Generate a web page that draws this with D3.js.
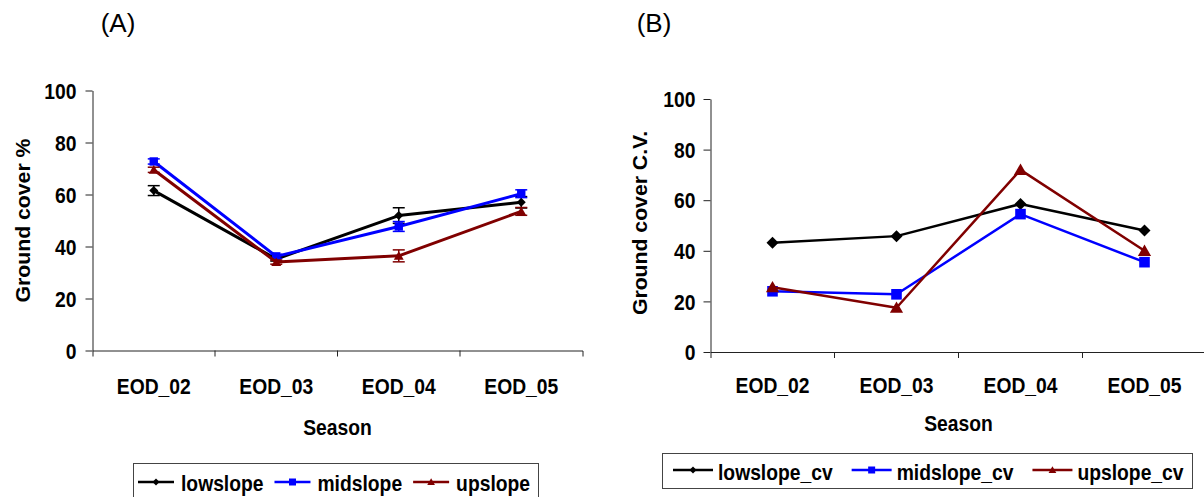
<!DOCTYPE html>
<html>
<head>
<meta charset="utf-8">
<script src="https://cdn.jsdelivr.net/npm/d3@7/dist/d3.min.js"></script>
<style>
  html, body { margin: 0; padding: 0; background: #fff; }
  svg { display: block; }
  text { font-family: "Liberation Sans", Arial, sans-serif; fill: #000; }
</style>
</head>
<body>
<svg id="chart" width="1204" height="497"></svg>
<script>
// Seasons on the x axis
const seasons = ["EOD_02", "EOD_03", "EOD_04", "EOD_05"];
const yTicks = [0, 20, 40, 60, 80, 100];

// Panel A: mean ground cover (%) with standard errors
const lowslope = [61.5, 35.2, 51.9, 57.0];
const lowslopeErr = [1.9, 0.8, 3.0, 2.2];
const midslope = [72.7, 36.2, 47.7, 60.3];
const midslopeErr = [1.0, 0.8, 1.9, 1.5];
const upslope = [69.5, 34.0, 36.4, 53.5];
const upslopeErr = [1.0, 0.8, 2.3, 1.5];

// Panel B: coefficient of variation of ground cover
const lowslopeCv = [43.2, 45.8, 58.5, 48.0];
const midslopeCv = [24.0, 22.8, 54.5, 35.5];
const upslopeCv = [25.6, 17.5, 72.0, 40.0];

const seriesNamesA = ["lowslope", "midslope", "upslope"];
const seriesNamesB = ["lowslope_cv", "midslope_cv", "upslope_cv"];
const colors = ["#000000", "#0000ff", "#800000"];
const shapes = ["diamond", "square", "triangle"];

const SY = 1.1;            // vertical stretch of all lettering
const FS = 19.3;           // base font size
const svg = d3.select("#chart");

function markerPath(shape, s) {
  const p = d3.path();
  if (shape === "diamond") {
    p.moveTo(0, -s); p.lineTo(s, 0); p.lineTo(0, s); p.lineTo(-s, 0); p.closePath();
  } else if (shape === "square") {
    p.rect(-s, -s, 2 * s, 2 * s);
  } else {
    p.moveTo(0, -s * 1.05); p.lineTo(s * 1.1, s * 0.85); p.lineTo(-s * 1.1, s * 0.85); p.closePath();
  }
  return p.toString();
}

function label(g, txt, x, y, opts = {}) {
  const t = g.append("text")
    .text(txt)
    .attr("font-size", opts.size || FS)
    .attr("font-weight", opts.weight || "bold")
    .attr("text-anchor", opts.anchor || "middle")
    .attr("transform", `translate(${x},${y}) scale(1,${opts.sy || SY})` + (opts.rotate ? " rotate(-90)" : ""));
  return t;
}

function panel(cfg) {
  const g = svg.append("g");
  const x = d3.scaleBand().domain(seasons).range([cfg.x0, cfg.x1]);
  const y = d3.scaleLinear().domain([0, 100]).range([cfg.y0, cfg.y1]);

  // y axis
  const ya = g.append("g")
    .attr("transform", `translate(${cfg.x0},0)`)
    .call(d3.axisLeft(y).tickValues(yTicks).tickSize(7).tickSizeOuter(0));
  ya.select(".domain").attr("stroke", "#222");
  ya.selectAll(".tick line").attr("stroke", "#222");
  ya.selectAll(".tick text")
    .attr("font-family", "Liberation Sans, Arial, sans-serif")
    .attr("font-size", FS).attr("font-weight", "bold").attr("fill", "#000")
    .attr("x", -cfg.tickGap).attr("dy", "0.36em")
    .attr("transform", `scale(1,${SY})`);

  // x axis: category labels centred in bands, ticks on band boundaries
  const xa = g.append("g")
    .attr("transform", `translate(0,${cfg.y0})`)
    .call(d3.axisBottom(x).tickSize(0).tickSizeOuter(6));
  xa.select(".domain").attr("stroke", "#222");
  xa.selectAll(".tick text")
    .attr("font-family", "Liberation Sans, Arial, sans-serif")
    .attr("font-size", FS).attr("font-weight", "bold").attr("fill", "#000")
    .attr("y", cfg.xLabelBase / SY).attr("dy", 0)
    .attr("transform", `scale(1,${SY})`);
  xa.selectAll(".boundary")
    .data(seasons.slice(1))
    .join("line")
    .attr("class", "boundary")
    .attr("x1", d => x(d)).attr("x2", d => x(d))
    .attr("y1", 0).attr("y2", 6)
    .attr("stroke", "#222");

  // axis titles
  label(g, "Season", (cfg.x0 + cfg.x1) / 2, cfg.y0 + cfg.seasonBase);
  label(g, cfg.yTitle, cfg.yTitleX, cfg.yTitleY, { rotate: true });
  label(g, cfg.title, cfg.titleX, 32, { size: 26, weight: "normal", sy: 1.0 });

  const cx = d => x(d) + x.bandwidth() / 2;

  cfg.series.forEach((vals, i) => {
    const pts = seasons.map((s, j) => ({ s, v: vals[j], e: cfg.errors ? cfg.errors[i][j] : 0 }));
    // error bars
    if (cfg.errors) {
      const eb = g.append("g").attr("stroke", colors[i]).attr("stroke-width", 1.5);
      pts.forEach(p => {
        const xx = cx(p.s);
        eb.append("line").attr("x1", xx).attr("x2", xx).attr("y1", y(p.v - p.e)).attr("y2", y(p.v + p.e));
        [p.v - p.e, p.v + p.e].forEach(vv => {
          eb.append("line").attr("x1", xx - 6).attr("x2", xx + 6).attr("y1", y(vv)).attr("y2", y(vv));
        });
      });
    }
    g.append("path")
      .datum(pts)
      .attr("fill", "none")
      .attr("stroke", colors[i])
      .attr("stroke-width", cfg.lineWidth)
      .attr("stroke-linejoin", "round")
      .attr("d", d3.line().x(p => cx(p.s)).y(p => y(p.v)));
    g.selectAll(null)
      .data(pts)
      .join("path")
      .attr("transform", p => `translate(${cx(p.s)},${y(p.v)})`)
      .attr("d", markerPath(shapes[i], cfg.markerSize[i]))
      .attr("fill", colors[i]);
  });

  // legend
  const lg = g.append("g");
  lg.append("rect")
    .attr("x", cfg.legend.x).attr("y", cfg.legend.y)
    .attr("width", cfg.legend.w).attr("height", cfg.legend.h)
    .attr("fill", "#fff").attr("stroke", "#444").attr("stroke-width", 1);
  let lx = cfg.legend.start;
  const ly = cfg.legend.y + cfg.legend.lineY;
  cfg.names.forEach((name, i) => {
    lg.append("line")
      .attr("x1", lx).attr("x2", lx + cfg.legend.lineLen)
      .attr("y1", ly).attr("y2", ly)
      .attr("stroke", colors[i]).attr("stroke-width", 2.5);
    lg.append("path")
      .attr("transform", `translate(${lx + cfg.legend.lineLen / 2},${ly})`)
      .attr("d", markerPath(shapes[i], 3.5))
      .attr("fill", colors[i]);
    const tx = lx + cfg.legend.lineLen + cfg.legend.textGap;
    const t = label(lg, name, tx, cfg.legend.y + cfg.legend.textBase, { anchor: "start" });
    lx = tx + t.node().getComputedTextLength() + cfg.legend.itemGap;
  });
}

panel({
  title: "(A)", titleX: 118,
  x0: 92.5, x1: 582.5, y0: 350.5, y1: 90.5,
  tickGap: 16, xLabelBase: 43.5, seasonBase: 84,
  yTitle: "Ground cover %", yTitleX: 29.5, yTitleY: 220.5,
  series: [lowslope, midslope, upslope],
  errors: [lowslopeErr, midslopeErr, upslopeErr],
  names: seriesNamesA,
  lineWidth: 3,
  markerSize: [4.5, 4.2, 4.5],
  legend: { x: 133.5, y: 463.5, w: 405, h: 45, lineY: 18.5, textBase: 27, start: 138, lineLen: 36, textGap: 7, itemGap: 11 }
});

panel({
  title: "(B)", titleX: 654,
  x0: 710.5, x1: 1206.5, y0: 352, y1: 99,
  tickGap: 15, xLabelBase: 41.5, seasonBase: 79,
  yTitle: "Ground cover C.V.", yTitleX: 647, yTitleY: 223,
  series: [lowslopeCv, midslopeCv, upslopeCv],
  errors: null,
  names: seriesNamesB,
  lineWidth: 2.5,
  markerSize: [6, 5.3, 6],
  legend: { x: 662.5, y: 453.5, w: 530, h: 35, lineY: 16.5, textBase: 26, start: 673, lineLen: 40, textGap: 5, itemGap: 19 }
});
</script>
</body>
</html>
